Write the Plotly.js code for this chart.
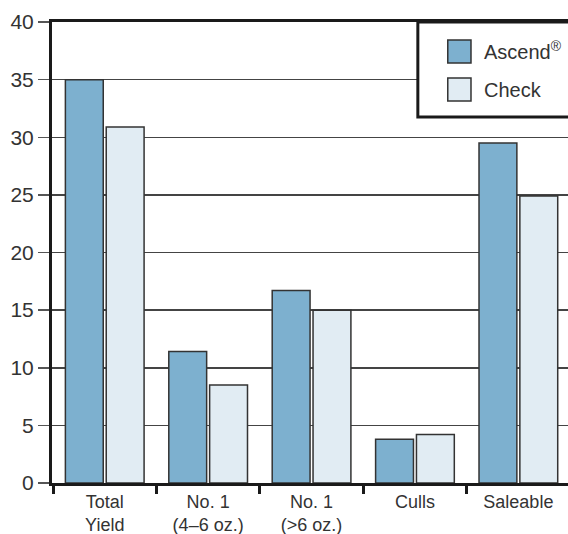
<!DOCTYPE html>
<html><head><meta charset="utf-8">
<script src="https://cdn.plot.ly/plotly-3.0.1.min.js"></script>
<style>html,body{margin:0;padding:0;background:#fff}#chart{width:568px;height:534px}</style>
</head><body><div id="chart"></div>
<script>
var categories = ["Total<br>Yield", "No. 1<br>(4–6 oz.)", "No. 1<br>(>6 oz.)", "Culls", "Saleable"];
var ascendValues = [35.0, 11.4, 16.7, 3.8, 29.5];
var checkValues = [30.9, 8.5, 15.0, 4.2, 24.9];
var seriesNames = ["Ascend<sup>®</sup>", "Check"];
var yTicks = [0, 5, 10, 15, 20, 25, 30, 35, 40];

var ascendColor = "#7db0cf", checkColor = "#e1ecf3";
var fnt = "Liberation Sans, Arial, sans-serif";

var traces = [
  {type: "bar", name: "Ascend", x: categories, y: ascendValues,
   marker: {color: ascendColor, line: {color: "#333", width: 1.5}}, showlegend: false},
  {type: "bar", name: "Check", x: categories, y: checkValues,
   marker: {color: checkColor, line: {color: "#333", width: 1.5}}, showlegend: false}
];

var layout = {
  width: 568, height: 534,
  margin: {l: 52, r: 0, t: 22, b: 51},
  paper_bgcolor: "#fff", plot_bgcolor: "#fff",
  barmode: "group", bargap: 0.21, bargroupgap: 0.073,
  font: {family: fnt, color: "#333", size: 19},
  xaxis: {type: "category", range: [-0.51, 4.48], showline: true, linecolor: "#1a1a1a", linewidth: 3, mirror: true,
          ticks: "outside", tickson: "boundaries", ticklen: 8, tickwidth: 3, tickcolor: "#1a1a1a",
          showgrid: false, tickfont: {size: 18, color: "#333"}},
  yaxis: {range: [0, 40], tickvals: yTicks, ticks: "outside", ticklen: 11, tickwidth: 1.5, tickcolor: "#555",
          showline: true, linecolor: "#1a1a1a", linewidth: 3, showgrid: true, gridcolor: "#444", gridwidth: 1.5,
          zeroline: false, tickfont: {size: 21, color: "#333"}},
  shapes: [
    {type: "rect", xref: "paper", yref: "paper", x0: 0.709, x1: 1.05, y0: 0.794, y1: 1.0,
     fillcolor: "#fff", line: {color: "#1a1a1a", width: 3}, layer: "above"},
    {type: "rect", xref: "paper", yref: "paper", x0: 0.767, x1: 0.812, y0: 0.911, y1: 0.961,
     fillcolor: ascendColor, line: {color: "#333", width: 1.5}, layer: "above"},
    {type: "rect", xref: "paper", yref: "paper", x0: 0.767, x1: 0.812, y0: 0.8286, y1: 0.8785,
     fillcolor: checkColor, line: {color: "#333", width: 1.5}, layer: "above"}
  ],
  annotations: [
    {xref: "paper", yref: "paper", x: 0.833, y: 0.939, xanchor: "left", yanchor: "middle",
     text: seriesNames[0], showarrow: false, font: {size: 20, color: "#333"}},
    {xref: "paper", yref: "paper", x: 0.833, y: 0.8525, xanchor: "left", yanchor: "middle",
     text: seriesNames[1], showarrow: false, font: {size: 20, color: "#333"}}
  ]
};

Plotly.newPlot("chart", traces, layout, {displayModeBar: false, staticPlot: true});
</script></body></html>
